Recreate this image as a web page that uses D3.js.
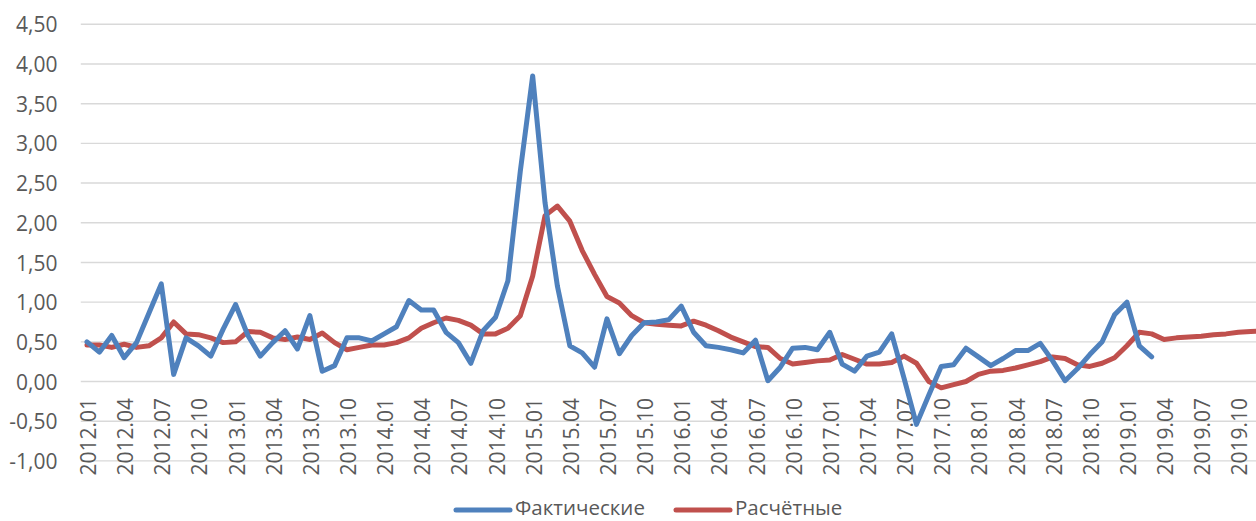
<!DOCTYPE html>
<html lang="ru">
<head>
<meta charset="utf-8">
<script src="https://cdn.jsdelivr.net/npm/d3@7"></script>
<style>
  html, body { margin: 0; padding: 0; background: #fff; }
  svg { display: block; overflow: hidden; }
  text { font-family: "Open Sans", "Liberation Sans", sans-serif; fill: #595959; }
</style>
</head>
<body>
<svg id="chart" width="1256" height="521"></svg>
<script>
// Monthly categories 2012.01 … 2019.12
const years = [2012, 2013, 2014, 2015, 2016, 2017, 2018, 2019];
const months = ["01","02","03","04","05","06","07","08","09","10","11","12"];
const categories = years.flatMap(y => months.map(m => `${y}.${m}`));

// Фактические (2012.01 – 2019.03)
const actual = [
  0.50, 0.37, 0.58, 0.30, 0.49, 0.86, 1.23, 0.09, 0.55, 0.45, 0.32, 0.66,
  0.97, 0.58, 0.32, 0.49, 0.64, 0.41, 0.83, 0.13, 0.20, 0.55, 0.55, 0.51,
  0.60, 0.69, 1.02, 0.90, 0.90, 0.62, 0.49, 0.23, 0.64, 0.81, 1.27, 2.65,
  3.85, 2.25, 1.20, 0.45, 0.36, 0.18, 0.79, 0.35, 0.58, 0.74, 0.75, 0.78,
  0.95, 0.62, 0.45, 0.43, 0.40, 0.36, 0.52, 0.01, 0.18, 0.42, 0.43, 0.40,
  0.62, 0.22, 0.13, 0.32, 0.37, 0.60, 0.04, -0.54, -0.17, 0.19, 0.21, 0.42,
  0.31, 0.20, 0.29, 0.39, 0.39, 0.48, 0.26, 0.01, 0.16, 0.34, 0.50, 0.84,
  1.00, 0.45, 0.31
];

// Расчётные (2012.01 – 2019.12)
const estimated = [
  0.46, 0.46, 0.43, 0.47, 0.43, 0.45, 0.55, 0.75, 0.60, 0.59, 0.55, 0.49,
  0.50, 0.63, 0.62, 0.55, 0.53, 0.56, 0.53, 0.61, 0.49, 0.40, 0.43, 0.46,
  0.46, 0.49, 0.55, 0.67, 0.74, 0.80, 0.77, 0.71, 0.60, 0.60, 0.67, 0.83,
  1.33, 2.09, 2.21, 2.02, 1.65, 1.35, 1.07, 0.99, 0.83, 0.74, 0.72, 0.71,
  0.70, 0.76, 0.71, 0.64, 0.56, 0.50, 0.44, 0.43, 0.29, 0.22, 0.24, 0.26,
  0.27, 0.34, 0.28, 0.22, 0.22, 0.24, 0.32, 0.23, 0.00, -0.08, -0.04, 0.00,
  0.09, 0.13, 0.14, 0.17, 0.21, 0.25, 0.31, 0.29, 0.21, 0.19, 0.23, 0.30,
  0.45, 0.62, 0.60, 0.53, 0.55, 0.56, 0.57, 0.59, 0.60, 0.62, 0.63, 0.64
];

const yTicks = [-1, -0.5, 0, 0.5, 1, 1.5, 2, 2.5, 3, 3.5, 4, 4.5];
const seriesNames = ["Фактические", "Расчётные"];
const seriesColors = ["#4f81bd", "#c0504d"];

const svg = d3.select("#chart");
const plot = { left: 80.8, right: 1269.3, top: 24.3, bottom: 460.9 };

const x = d3.scalePoint()
  .domain(categories)
  .range([plot.left, plot.right])
  .padding(0.5);

const y = d3.scaleLinear()
  .domain([-1, 4.5])
  .range([plot.bottom, plot.top]);

const fmt = v => d3.format(".2f")(v).replace(".", ",").replace("−", "-");

// Horizontal gridlines
svg.append("g")
  .selectAll("line")
  .data(yTicks)
  .join("line")
  .attr("x1", plot.left)
  .attr("x2", plot.right)
  .attr("y1", d => y(d))
  .attr("y2", d => y(d))
  .attr("stroke", "#d9d9d9")
  .attr("stroke-width", 1.4);

// Value axis labels
const yAxis = d3.axisLeft(y).tickValues(yTicks).tickFormat(fmt).tickSize(0).tickPadding(0);
svg.append("g")
  .attr("transform", `translate(57.5,0)`)
  .call(yAxis)
  .call(g => g.select(".domain").remove())
  .call(g => g.selectAll("text")
    .attr("font-size", 21)
    .attr("font-family", "\"Open Sans\", \"Liberation Sans\", sans-serif")
    .attr("fill", "#595959")
    .attr("dy", "0.36em"));

// Category labels, every third month, rotated, hanging below the zero line
const labelCats = categories.filter((d, i) => i % 3 === 0);
const xAxis = d3.axisBottom(x).tickValues(labelCats).tickSize(0).tickPadding(0);
svg.append("g")
  .attr("transform", `translate(0,${y(0)})`)
  .call(xAxis)
  .call(g => g.select(".domain").remove())
  .call(g => g.selectAll("text")
    .attr("font-size", 21)
    .attr("font-family", "\"Open Sans\", \"Liberation Sans\", sans-serif")
    .attr("fill", "#595959")
    .attr("text-anchor", "end")
    .attr("transform", "rotate(-90)")
    .attr("x", -16.5)
    .attr("y", 1)
    .attr("dy", "0.36em"));

// Series lines
const line = d3.line()
  .defined(d => d.v != null)
  .x(d => x(d.c))
  .y(d => y(d.v));

const series = [
  actual.map((v, i) => ({ c: categories[i], v })),
  estimated.map((v, i) => ({ c: categories[i], v }))
];

// Draw the estimate first so the actual line sits on top where they cross
[1, 0].forEach(k => {
  svg.append("path")
    .datum(series[k])
    .attr("fill", "none")
    .attr("stroke", seriesColors[k])
    .attr("stroke-width", 5)
    .attr("stroke-linejoin", "round")
    .attr("stroke-linecap", "round")
    .attr("d", line);
});

// Legend
const legend = svg.append("g").attr("transform", "translate(0,507.5)");
const legendItems = [
  { name: seriesNames[0], color: seriesColors[0], x0: 456, x1: 510, tx: 515 },
  { name: seriesNames[1], color: seriesColors[1], x0: 676, x1: 730, tx: 735 }
];
legendItems.forEach(it => {
  legend.append("line")
    .attr("x1", it.x0).attr("x2", it.x1)
    .attr("y1", 2.5).attr("y2", 2.5)
    .attr("stroke", it.color)
    .attr("stroke-width", 5)
    .attr("stroke-linecap", "round");
  legend.append("text")
    .attr("x", it.tx)
    .attr("y", 0)
    .attr("dy", "0.36em")
    .attr("font-size", 20.5)
    .text(it.name);
});
</script>
</body>
</html>
